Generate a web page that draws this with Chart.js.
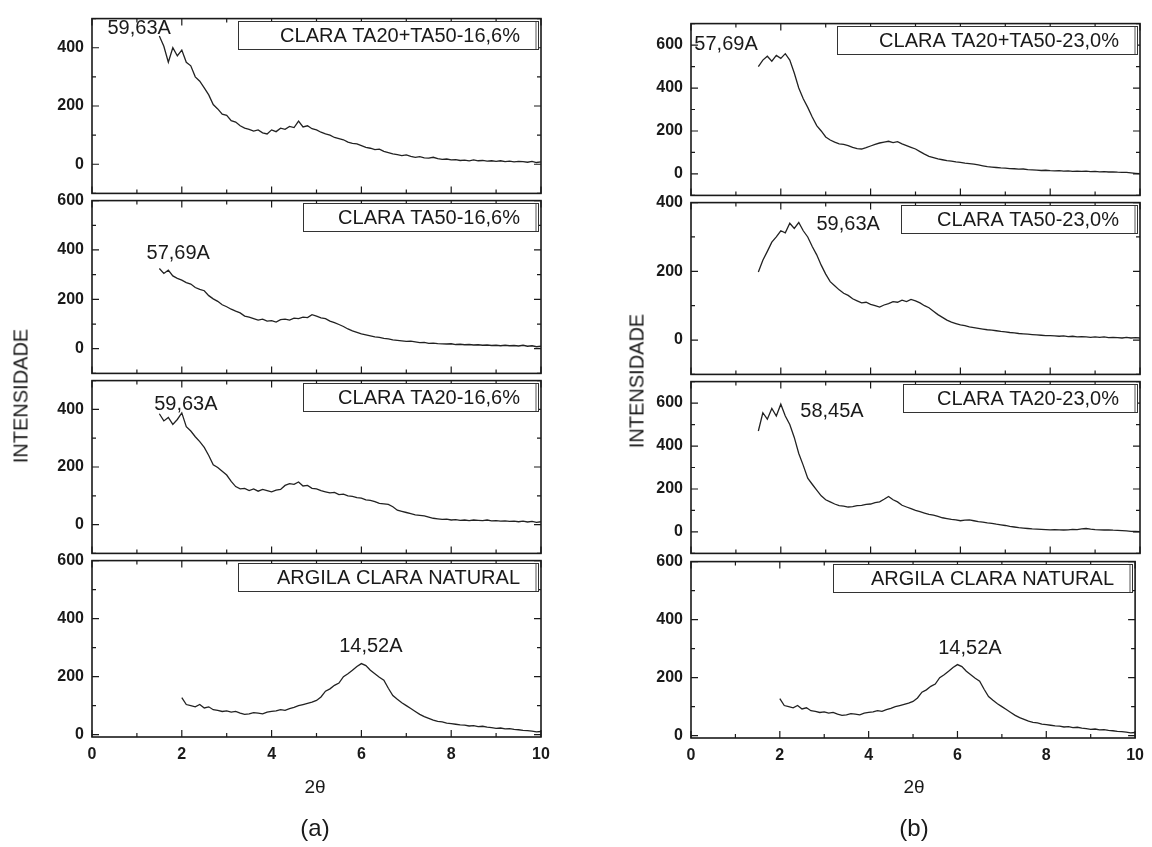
<!DOCTYPE html>
<html>
<head>
<meta charset="utf-8">
<title>DRX argila clara</title>
<script src="https://cdn.jsdelivr.net/npm/chart.js@4.4.0/dist/chart.umd.min.js"></script>
<style>
  body { margin: 0; width: 1152px; height: 847px; background: #fff; position: relative; overflow: hidden;
         font-family: 'Liberation Sans', Arial, sans-serif; color: #1a1a1a; }
  canvas { position: absolute; }
  .lbl { position: absolute; transform: translate(-50%, -50%); white-space: nowrap; }
  .ytitle { position: absolute; transform: translate(-50%, -50%) rotate(-90deg); font-size: 20px; white-space: nowrap; }
</style>
</head>
<body>
<canvas id="a1"></canvas>
<canvas id="a2"></canvas>
<canvas id="a3"></canvas>
<canvas id="a4"></canvas>
<canvas id="b1"></canvas>
<canvas id="b2"></canvas>
<canvas id="b3"></canvas>
<canvas id="b4"></canvas>
<div class="ytitle" style="left:21px;top:396px">INTENSIDADE</div>
<div class="ytitle" style="left:637px;top:381px">INTENSIDADE</div>
<div class="lbl" style="left:315px;top:787px;font-size:19px">2θ</div>
<div class="lbl" style="left:914px;top:787px;font-size:19px">2θ</div>
<div class="lbl" style="left:315px;top:828px;font-size:24px">(a)</div>
<div class="lbl" style="left:914px;top:828px;font-size:24px">(b)</div>
<script>
// 2-theta scan: first angle of each sample and the step (degrees)
const startTA = 1.5;
const startNatural = 2.0;
const step = 0.1;

const xTicks = [0, 2, 4, 6, 8, 10];
const yTicks = [0, 200, 400, 600];

// intensities, one value per 0.1 degree
const clara_TA20TA50_166 = [440,405,350,400,372,392,350,338,300,285,262,238,205,190,172,168,150,145,132,124,
  120,114,118,108,104,118,112,124,120,130,126,148,128,132,122,118,110,104,100,92,
  88,84,76,72,70,64,58,55,50,52,44,40,36,33,30,32,27,24,26,22,
  21,24,19,17,18,15,16,13,14,12,15,12,13,11,12,10,12,9,11,8,
  10,9,7,10,6,8];
const clara_TA50_166 = [325,305,318,295,285,278,268,262,248,240,235,215,202,192,178,170,160,152,145,132,
  128,122,116,120,112,114,108,118,120,116,124,122,128,126,138,132,125,122,112,106,
  98,90,80,72,66,60,56,52,48,46,42,40,36,34,32,30,31,28,25,26,
  22,23,21,20,19,20,17,18,16,17,15,16,14,15,13,14,12,14,12,13,
  11,14,10,12,8,10];
const clara_TA20_166 = [385,360,372,348,365,388,340,325,305,288,268,240,208,198,185,172,150,132,124,126,
  118,124,116,122,118,114,120,122,136,142,140,148,134,136,126,124,118,114,110,112,
  104,106,100,98,94,92,86,84,80,74,72,70,62,50,46,42,38,34,32,30,
  26,22,20,18,19,16,17,15,16,14,16,15,14,16,13,14,12,13,11,12,
  10,12,9,11,8,10];
const argilaNatural = [128,104,100,96,104,92,96,86,84,80,82,78,80,74,70,72,76,74,72,78,
  80,82,86,84,90,94,100,104,108,112,118,130,150,158,170,178,200,210,222,235,
  245,238,222,210,198,188,160,135,122,110,100,90,80,70,62,56,50,46,44,40,
  38,36,34,33,30,31,28,29,26,24,22,23,20,21,18,17,15,14,12,10,
  11];
const clara_TA20TA50_230 = [500,530,548,525,552,538,560,530,470,400,350,310,265,225,200,172,158,148,140,138,
  132,124,118,116,122,130,138,144,148,152,146,150,140,132,124,116,104,92,82,76,
  70,66,62,60,56,54,50,48,46,42,38,34,32,30,28,27,25,24,22,23,
  20,19,18,16,17,15,14,15,13,14,12,13,12,13,11,12,10,11,9,10,
  8,7,7,5,3,1];
const clara_TA50_230 = [198,232,258,285,300,318,312,340,325,342,318,300,272,248,218,192,170,158,146,136,
  130,120,114,108,110,104,100,96,102,106,112,110,116,112,118,114,108,100,94,84,
  74,66,58,52,48,44,42,38,36,34,32,30,29,27,25,24,22,21,19,18,
  17,16,15,14,13,13,12,11,12,10,11,9,10,9,8,9,8,9,7,8,
  7,6,8,6,7,6];
const clara_TA20_230 = [470,555,525,575,540,595,540,500,440,365,310,250,222,195,168,150,140,130,122,120,
  116,118,122,124,128,130,136,140,152,165,150,140,124,116,108,100,94,88,82,78,
  72,66,62,58,56,52,55,56,52,48,46,42,40,36,33,30,26,23,20,18,
  16,14,13,12,11,10,11,10,9,10,12,11,14,16,13,11,10,9,10,8,
  7,6,5,3,2,1];

const legendTexts = ['CLARA TA20+TA50-16,6%', 'CLARA TA50-16,6%', 'CLARA TA20-16,6%', 'ARGILA CLARA NATURAL',
  'CLARA TA20+TA50-23,0%', 'CLARA TA50-23,0%', 'CLARA TA20-23,0%', 'ARGILA CLARA NATURAL'];
const peakTexts = ['59,63A', '57,69A', '59,63A', '14,52A', '57,69A', '59,63A', '58,45A', '14,52A'];

const font = "'Liberation Sans', Arial, sans-serif";
const ink = '#1a1a1a';
Chart.defaults.font.family = font;
Chart.defaults.color = ink;

const panelA = { left: 0, width: 560, plotLeft: 92, plotRight: 541 };
const panelB = { left: 600, width: 552, plotLeft: 91, plotRight: 540 };

const plots = [
  { id: 'a1', panel: panelA, top: 15, bottom: 197, yMin: -100, yMax: 500, series: clara_TA20TA50_166, start: startTA, boxW: 300, peakAt: [1.05, 466] },
  { id: 'a2', panel: panelA, top: 197, bottom: 377, yMin: -100, yMax: 600, series: clara_TA50_166, start: startTA, boxW: 235, peakAt: [1.92, 385] },
  { id: 'a3', panel: panelA, top: 377, bottom: 557, yMin: -100, yMax: 500, series: clara_TA20_166, start: startTA, boxW: 235, peakAt: [2.09, 418] },
  { id: 'a4', panel: panelA, top: 557, bottom: 737, yMin: -8, yMax: 600, series: argilaNatural, start: startNatural, boxW: 300, peakAt: [6.21, 303] },
  { id: 'b1', panel: panelB, top: 20, bottom: 199, yMin: -100, yMax: 700, series: clara_TA20TA50_230, start: startTA, boxW: 300, peakAt: [0.78, 603] },
  { id: 'b2', panel: panelB, top: 199, bottom: 378, yMin: -100, yMax: 400, series: clara_TA50_230, start: startTA, boxW: 236, peakAt: [3.5, 336] },
  { id: 'b3', panel: panelB, top: 378, bottom: 557, yMin: -100, yMax: 700, series: clara_TA20_230, start: startTA, boxW: 234, peakAt: [3.14, 563] },
  { id: 'b4', panel: panelB, top: 558, bottom: 738, yMin: -8, yMax: 600, series: argilaNatural, start: startNatural, boxW: 299, peakAt: [6.28, 302] }
];

// frame, inward ticks, sample box and peak label
const framePlugin = {
  id: 'frame',
  afterDatasetsDraw(chart, args, o) {
    const { ctx, chartArea: a, scales: { x, y } } = chart;
    ctx.save();
    ctx.strokeStyle = ink;
    ctx.lineWidth = 1.6;
    ctx.strokeRect(a.left, a.top, a.right - a.left, a.bottom - a.top);

    ctx.lineWidth = 1.2;
    ctx.beginPath();
    for (let v = 0; v <= 10; v++) {
      const px = x.getPixelForValue(v), len = v % 2 ? 4 : 7;
      ctx.moveTo(px, a.bottom); ctx.lineTo(px, a.bottom - len);
      ctx.moveTo(px, a.top); ctx.lineTo(px, a.top + len);
    }
    for (let v = Math.ceil(y.min / 100) * 100; v <= y.max; v += 100) {
      const py = y.getPixelForValue(v), len = v % 200 ? 4 : 7;
      ctx.moveTo(a.left, py); ctx.lineTo(a.left + len, py);
      ctx.moveTo(a.right, py); ctx.lineTo(a.right - len, py);
    }
    ctx.stroke();

    const bh = 28, bx = Math.round(a.right - 3 - o.boxW), by = Math.round(a.top + 2);
    ctx.fillStyle = '#fff';
    ctx.fillRect(bx, by, o.boxW, bh);
    ctx.lineWidth = 1;
    ctx.strokeStyle = '#333';
    ctx.strokeRect(bx + 0.5, by + 0.5, o.boxW, bh);
    ctx.strokeStyle = '#aaa';
    ctx.lineWidth = 2;
    ctx.beginPath();
    ctx.moveTo(bx + o.boxW - 2, by + 1); ctx.lineTo(bx + o.boxW - 2, by + bh);
    ctx.stroke();

    ctx.fillStyle = ink;
    ctx.font = '20px ' + font;
    ctx.textBaseline = 'middle';
    ctx.textAlign = 'right';
    ctx.fillText(o.legend, bx + o.boxW - 18, by + bh / 2 + 1);
    ctx.textAlign = 'center';
    ctx.fillText(o.peak, x.getPixelForValue(o.peakAt[0]), y.getPixelForValue(o.peakAt[1]));
    ctx.restore();
  }
};

plots.forEach((p, i) => {
  const isBottom = i % 4 === 3;
  const pad = 14;
  const cv = document.getElementById(p.id);
  const canvasTop = p.top - pad;
  cv.width = p.panel.width;
  cv.height = (p.bottom - canvasTop) + (isBottom ? 40 : pad);
  cv.style.left = p.panel.left + 'px';
  cv.style.top = canvasTop + 'px';

  new Chart(cv, {
    type: 'line',
    data: {
      datasets: [{
        data: p.series.map((v, k) => ({ x: p.start + k * step, y: v })),
        borderColor: '#222',
        borderWidth: 1.3,
        pointRadius: 0,
        tension: 0
      }]
    },
    options: {
      responsive: false,
      animation: false,
      events: [],
      layout: { padding: { left: 0, right: p.panel.width - p.panel.plotRight, top: pad, bottom: isBottom ? 0 : pad } },
      plugins: {
        legend: { display: false },
        tooltip: { enabled: false },
        frame: { legend: legendTexts[i], peak: peakTexts[i], boxW: p.boxW, peakAt: p.peakAt }
      },
      scales: {
        x: {
          type: 'linear', min: 0, max: 10,
          display: isBottom,
          grid: { display: false, drawTicks: false },
          border: { display: false },
          afterBuildTicks: s => { s.ticks = xTicks.map(v => ({ value: v })); },
          afterFit: s => { s.height = isBottom ? 40 : 0; },
          ticks: { padding: 8, maxRotation: 0, autoSkip: false, font: { size: 16, weight: 'bold' } }
        },
        y: {
          type: 'linear', min: p.yMin, max: p.yMax,
          grid: { display: false, drawTicks: false },
          border: { display: false },
          afterBuildTicks: s => { s.ticks = yTicks.filter(v => v >= p.yMin && v <= p.yMax).map(v => ({ value: v })); },
          afterFit: s => { s.width = p.panel.plotLeft; },
          ticks: { padding: 8, font: { size: 16, weight: 'bold' } }
        }
      }
    },
    plugins: [framePlugin]
  });
});
</script>
</body>
</html>
